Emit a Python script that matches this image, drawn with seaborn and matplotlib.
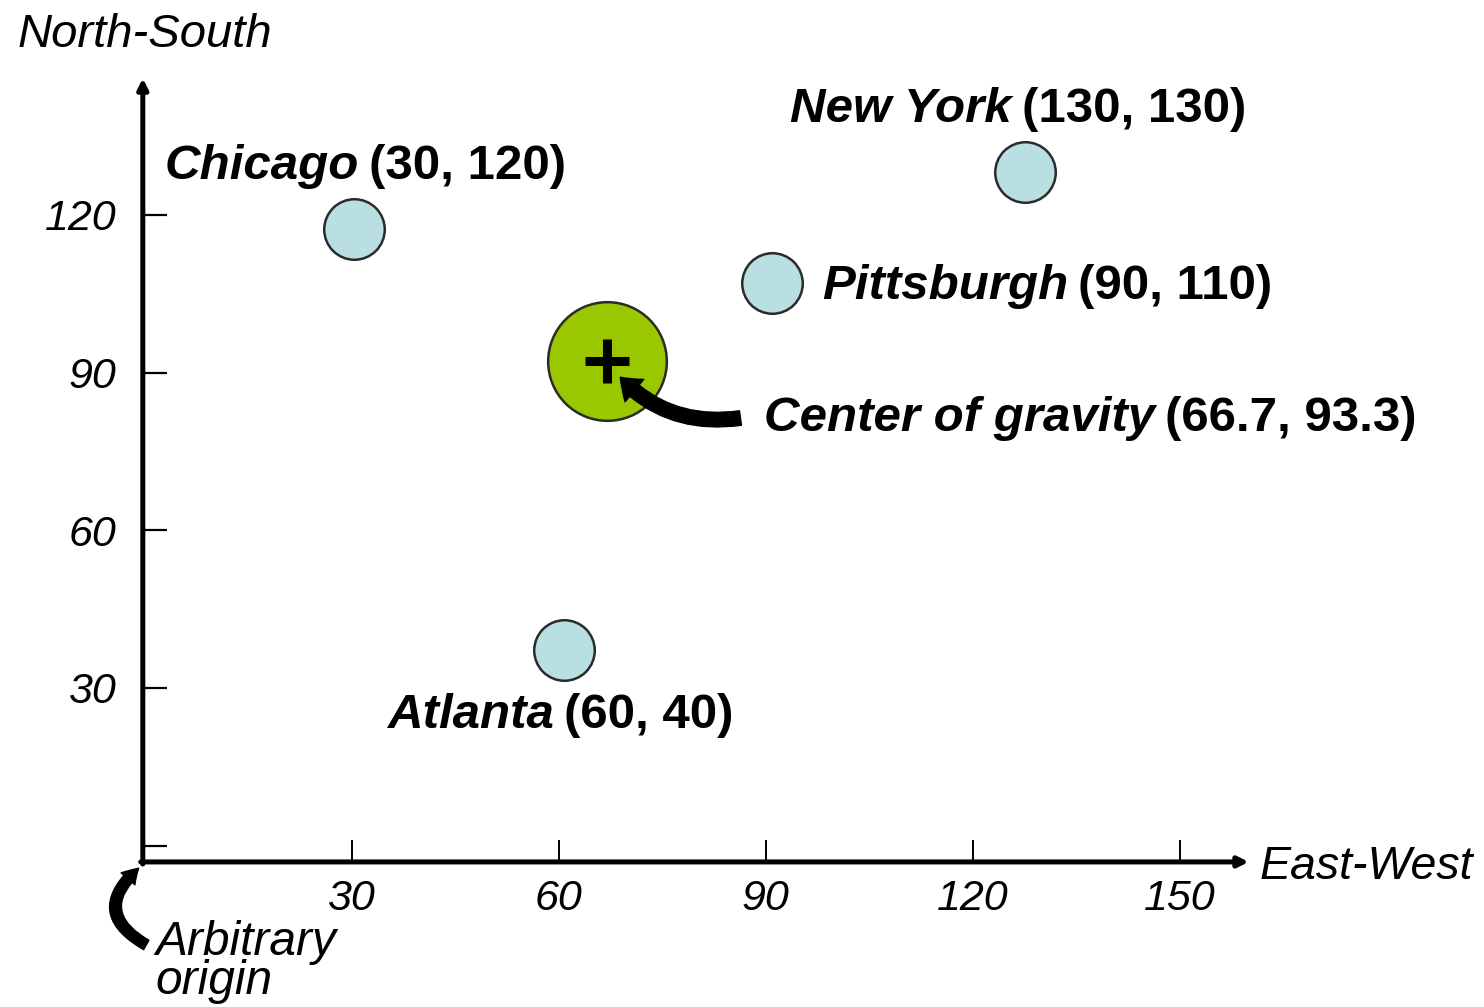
import matplotlib
matplotlib.use("Agg")
import matplotlib.pyplot as plt
import seaborn as sns
import pandas as pd

# valores
cities = ["Chicago", "New York", "Pittsburgh", "Atlanta"]
east_west = [30.3, 127.6, 90.9, 60.7]
north_south = [117.4, 128.2, 107.1, 37.2]
coord_labels = ["(30, 120)", "(130, 130)", "(90, 110)", "(60, 40)"]

center_name = "Center of gravity"
center_x = 67.0
center_y = 92.2
center_label = "(66.7, 93.3)"

x_ticks = [30, 60, 90, 120, 150]
y_ticks = [0, 30, 60, 90, 120]
y_tick_labels = ["", "30", "60", "90", "120"]

# desplazamientos de las etiquetas (puntos)
label_offsets = {
    "Chicago": (-136, 45),
    "New York": (-169, 45),
    "Pittsburgh": (36, -3),
    "Atlanta": (-127, -47),
}

sns.set_style("white")
plt.rcParams["font.family"] = ["Liberation Sans", "DejaVu Sans"]
plt.rcParams["text.color"] = "black"
plt.rcParams["xtick.color"] = "black"
plt.rcParams["ytick.color"] = "black"

fig = plt.figure(figsize=(14.84, 10.07), dpi=100)
ax = fig.add_axes([0, 0, 1, 1])
ax.set_xlim(-21.0, 194.1)
ax.set_ylim(-30.7, 160.9)

df = pd.DataFrame({"city": cities, "x": east_west, "y": north_south, "coords": coord_labels})

sns.scatterplot(data=df, x="x", y="y", s=1900, color="#badfe3",
                edgecolor="#2b2b2b", linewidth=1.8, ax=ax, zorder=3)
sns.scatterplot(x=[center_x], y=[center_y], s=7300, color="#9ac800",
                edgecolor="#2b2b2b", linewidth=1.8, ax=ax, zorder=3)
ax.plot([center_x], [center_y], marker="+", markersize=31, markeredgewidth=6.5,
        color="black", zorder=4)

name_font = dict(fontsize=35.5, fontweight="bold", fontstyle="italic", color="black")
coord_font = dict(fontsize=35.5, fontweight="bold", color="black")

for _, row in df.iterrows():
    name = ax.annotate(row["city"], xy=(row["x"], row["y"]), xytext=label_offsets[row["city"]],
                       textcoords="offset points", ha="left", va="center", **name_font)
    ax.annotate(row["coords"], xy=(1, 0.5), xycoords=name, xytext=(7, 0),
                textcoords="offset points", ha="left", va="center", **coord_font)

cg = ax.annotate(center_name, xy=(center_x, center_y), xytext=(113, -41),
                 textcoords="offset points", ha="left", va="center", **name_font)
ax.annotate(center_label, xy=(1, 0.5), xycoords=cg, xytext=(7, 0),
            textcoords="offset points", ha="left", va="center", **coord_font)

# flecha curva hacia el centro de gravedad
ax.annotate("", xy=(center_x, center_y), xytext=(96, -41), textcoords="offset points",
            arrowprops=dict(arrowstyle="simple,head_length=1.0,head_width=1.5,tail_width=0.75",
                            mutation_scale=14, color="black", shrinkA=0, shrinkB=15,
                            connectionstyle="arc3,rad=-0.3"))

# ejes con flechas
ax_x0, ax_y0 = -0.3, -3.1
ax.annotate("", xy=(ax_x0, 146), xytext=(ax_x0, ax_y0 - 0.4),
            arrowprops=dict(arrowstyle="-|>,head_length=0.6,head_width=0.3", lw=3.6,
                            color="black", shrinkA=0, shrinkB=0))
ax.annotate("", xy=(160, ax_y0), xytext=(ax_x0 - 0.3, ax_y0),
            arrowprops=dict(arrowstyle="-|>,head_length=0.6,head_width=0.3", lw=3.6,
                            color="black", shrinkA=0, shrinkB=0))

for side in ["top", "right", "left", "bottom"]:
    ax.spines[side].set_visible(False)
ax.spines["left"].set_position(("data", ax_x0))
ax.spines["bottom"].set_position(("data", ax_y0))

ax.set_xticks(x_ticks)
ax.set_xticklabels([str(t) for t in x_ticks], fontstyle="italic", fontsize=31, color="black")
ax.set_yticks(y_ticks)
ax.set_yticklabels(y_tick_labels, fontstyle="italic", fontsize=31, color="black")
ax.tick_params(axis="x", direction="in", length=16, width=1.4, pad=12, colors="black",
               bottom=True, top=False)
ax.tick_params(axis="y", direction="in", length=17, width=1.6, pad=19, colors="black",
               left=True, right=False)
ax.set_xlabel("")
ax.set_ylabel("")

ax.text(18 / 1484, 1 - 35 / 1007, "North-South", transform=fig.transFigure,
        fontsize=34, fontstyle="italic", ha="left", va="center", color="black")
ax.text(1260 / 1484, 1 - 867 / 1007, "East-West", transform=fig.transFigure,
        fontsize=33.5, fontstyle="italic", ha="left", va="center", color="black")
ax.text(155 / 1484, 1 - 962 / 1007, "Arbitrary\norigin", transform=fig.transFigure,
        fontsize=34.5, fontstyle="italic", ha="left", va="center", linespacing=0.85,
        color="black")

# flecha curva del origen
ax.annotate("", xy=(ax_x0 - 0.6, ax_y0 - 1.2), xytext=(0.2, -18.9),
            arrowprops=dict(arrowstyle="simple,head_length=0.9,head_width=1.1,tail_width=0.65",
                            mutation_scale=12, color="black", shrinkA=0, shrinkB=0,
                            connectionstyle="arc3,rad=-0.7"))

fig.savefig("out.png", dpi=100)
